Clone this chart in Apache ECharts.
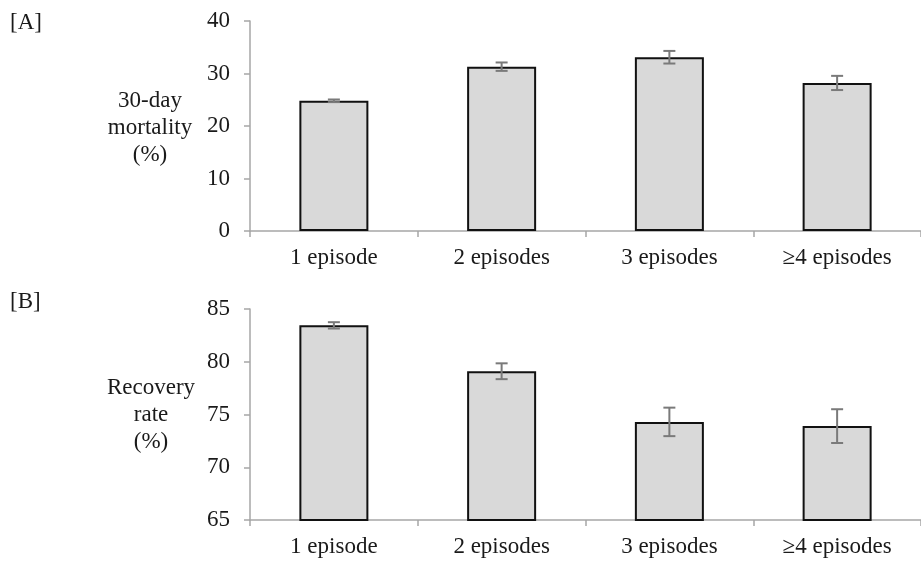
<!DOCTYPE html>
<html>
<head>
<meta charset="utf-8">
<script src="https://cdn.jsdelivr.net/npm/echarts@6/dist/echarts.min.js"></script>
<style>html,body{margin:0;padding:0;background:#fff;}#c{width:921px;height:562px;}</style>
</head>
<body>
<div id="c"></div>
<script>
var categories = ['1 episode', '2 episodes', '3 episodes', '\u22654 episodes'];
var mortality = [24.8, 31.3, 33.1, 28.2];
var mortalityErr = [0.25, 0.8, 1.2, 1.35];
var recovery = [83.45, 79.1, 74.3, 73.9];
var recoveryErr = [0.3, 0.75, 1.35, 1.6];
var topTicks = {min: 0, max: 40, interval: 10};
var bottomTicks = {min: 65, max: 85, interval: 5};

var FONT = 'Liberation Serif';
var FS = 23;
var TXT = '#1a1a1a';
var AXIS = '#a6a6a6';

function errData(vals, errs) {
  return vals.map(function (v, i) { return [i, v, errs[i]]; });
}
function errRender(params, api) {
  var x = api.value(0), v = api.value(1), e = api.value(2);
  var hi = api.coord([x, v + e]);
  var lo = api.coord([x, v - e]);
  var hw = 6;
  var style = {stroke: '#7a7a7a', lineWidth: 2};
  return {
    type: 'group',
    children: [
      {type: 'line', shape: {x1: hi[0], y1: hi[1], x2: lo[0], y2: lo[1]}, style: style},
      {type: 'line', shape: {x1: hi[0] - hw, y1: hi[1], x2: hi[0] + hw, y2: hi[1]}, style: style},
      {type: 'line', shape: {x1: lo[0] - hw, y1: lo[1], x2: lo[0] + hw, y2: lo[1]}, style: style}
    ]
  };
}
function xAxis(gi) {
  return {
    type: 'category', gridIndex: gi, data: categories,
    axisLine: {lineStyle: {color: AXIS, width: 1.5}},
    axisTick: {show: true, length: 6, lineStyle: {color: AXIS, width: 1.5}},
    axisLabel: {color: TXT, fontFamily: FONT, fontSize: FS, margin: 15}
  };
}
function yAxis(gi, t) {
  return {
    type: 'value', gridIndex: gi, min: t.min, max: t.max, interval: t.interval,
    splitLine: {show: false},
    axisLine: {show: true, lineStyle: {color: AXIS, width: 1.5}},
    axisTick: {show: true, length: 6, lineStyle: {color: AXIS, width: 1.5}},
    axisLabel: {color: TXT, fontFamily: FONT, fontSize: FS, margin: 20}
  };
}
var barStyle = {color: '#d9d9d9', borderColor: '#111', borderWidth: 2};
var gfont = FS + 'px "Liberation Serif"';

var chart = echarts.init(document.getElementById('c'), null, {renderer: 'canvas'});
chart.setOption({
  animation: false,
  grid: [
    {left: 250, top: 21, width: 680, height: 210},
    {left: 250, top: 309, width: 680, height: 211}
  ],
  xAxis: [xAxis(0), xAxis(1)],
  yAxis: [yAxis(0, topTicks), yAxis(1, bottomTicks)],
  graphic: [
    {type: 'text', left: 10, top: 11, style: {text: '[A]', font: gfont, fill: TXT}},
    {type: 'text', left: 10, top: 290, style: {text: '[B]', font: gfont, fill: TXT}},
    {type: 'text', x: 150, y: 128, style: {text: '30-day\nmortality\n(%)', font: gfont, fill: TXT, align: 'center', verticalAlign: 'middle', lineHeight: 27}},
    {type: 'text', x: 151, y: 415, style: {text: 'Recovery\nrate\n(%)', font: gfont, fill: TXT, align: 'center', verticalAlign: 'middle', lineHeight: 27}}
  ],
  series: [
    {type: 'bar', xAxisIndex: 0, yAxisIndex: 0, data: mortality, barWidth: 69, itemStyle: barStyle},
    {type: 'custom', xAxisIndex: 0, yAxisIndex: 0, data: errData(mortality, mortalityErr), renderItem: errRender, z: 5},
    {type: 'bar', xAxisIndex: 1, yAxisIndex: 1, data: recovery, barWidth: 69, itemStyle: barStyle},
    {type: 'custom', xAxisIndex: 1, yAxisIndex: 1, data: errData(recovery, recoveryErr), renderItem: errRender, z: 5}
  ]
});
</script>
</body>
</html>
